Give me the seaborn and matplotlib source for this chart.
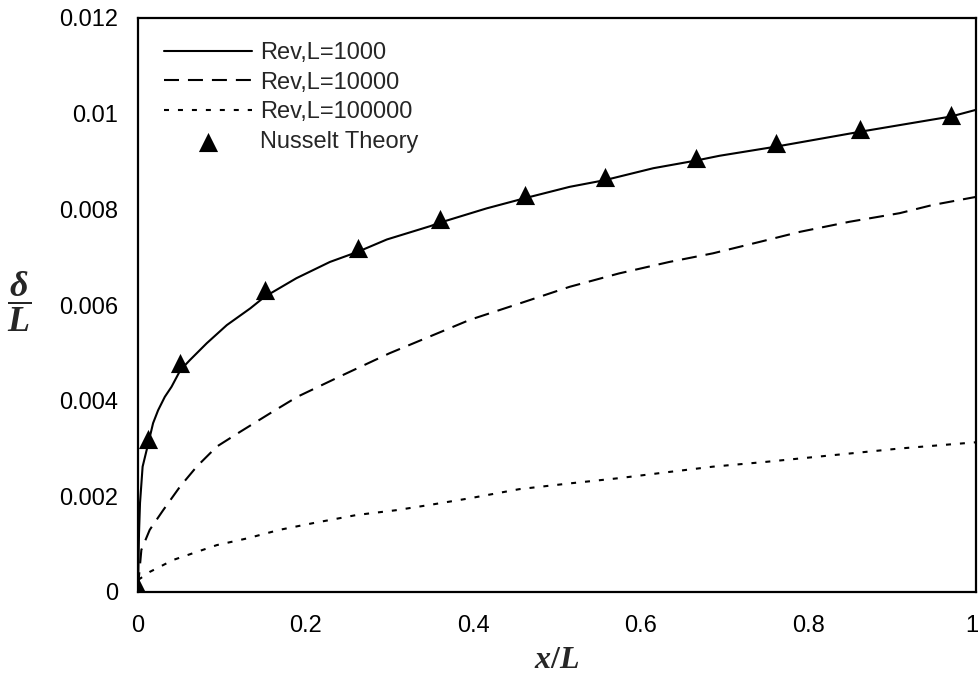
import matplotlib
matplotlib.use("Agg")
import matplotlib.pyplot as plt
import matplotlib.transforms as mtransforms
import seaborn as sns
import numpy as np

# ---- data ----
x_re1000 = [0.0, 0.0012, 0.0024, 0.0055, 0.0123, 0.018, 0.024, 0.032, 0.040, 0.0506, 0.062,
            0.082, 0.106, 0.134, 0.151, 0.189, 0.229, 0.262, 0.297, 0.349, 0.360, 0.416,
            0.461, 0.515, 0.557, 0.615, 0.666, 0.694, 0.761, 0.861, 0.946, 0.970, 1.0]
y_re1000 = [0.0, 0.00123, 0.00186, 0.00262, 0.00311, 0.00353, 0.0038, 0.00408, 0.00429, 0.00464, 0.00485,
            0.0052, 0.00558, 0.00593, 0.00617, 0.00656, 0.0069, 0.00711, 0.00737, 0.00765, 0.00772, 0.00802,
            0.00823, 0.00847, 0.00861, 0.00886, 0.00902, 0.00912, 0.00931, 0.00962, 0.00987, 0.00994, 0.01008]

x_re10000 = [0.0, 0.004, 0.014, 0.030, 0.050, 0.070, 0.094, 0.122, 0.158, 0.190, 0.245,
             0.300, 0.348, 0.396, 0.455, 0.515, 0.574, 0.634, 0.686, 0.742, 0.790, 0.849,
             0.909, 0.948, 1.0]
y_re10000 = [0.0001, 0.00088, 0.0013, 0.00171, 0.0022, 0.00262, 0.00304, 0.00335, 0.00374, 0.00408, 0.00454,
             0.00499, 0.00534, 0.00569, 0.00603, 0.00638, 0.00666, 0.0069, 0.00708, 0.00732, 0.00753, 0.00774,
             0.00792, 0.00809, 0.00826]

x_re100000 = [0.0, 0.014, 0.042, 0.094, 0.130, 0.169, 0.209, 0.261, 0.308, 0.348, 0.396,
              0.455, 0.515, 0.574, 0.634, 0.686, 0.749, 0.829, 0.909, 1.0]
y_re100000 = [0.00025, 0.00042, 0.00067, 0.00098, 0.00112, 0.0013, 0.00144, 0.00161, 0.00171, 0.00182, 0.00196,
              0.00215, 0.00227, 0.00238, 0.00251, 0.00262, 0.00272, 0.00286, 0.003, 0.00313]

x_nusselt = [0.0, 0.0123, 0.0506, 0.1515, 0.262, 0.360, 0.4616, 0.557, 0.666, 0.761, 0.861, 0.970]
y_nusselt = [0.0001, 0.00319, 0.00478, 0.00631, 0.0072, 0.0078, 0.00829, 0.00868, 0.00907, 0.00938, 0.00967, 0.00997]

labels = ["Rev,L=1000", "Rev,L=10000", "Rev,L=100000", "Nusselt Theory"]
x_ticks = [0, 0.2, 0.4, 0.6, 0.8, 1.0]
x_ticklabels = ["0", "0.2", "0.4", "0.6", "0.8", "1"]
y_ticks = [0, 0.002, 0.004, 0.006, 0.008, 0.010, 0.012]
y_ticklabels = ["0", "0.002", "0.004", "0.006", "0.008", "0.01", "0.012"]

# ---- style ----
sns.set_style("white")
plt.rcParams["font.family"] = ["Liberation Sans", "DejaVu Sans"]
plt.rcParams["mathtext.fontset"] = "custom"
plt.rcParams["mathtext.it"] = "Liberation Serif:italic:bold"
plt.rcParams["mathtext.rm"] = "Liberation Serif:bold"

W, H = 979, 679
fig = plt.figure(figsize=(W / 100, H / 100), dpi=100)
ax = fig.add_axes([138 / W, 1 - 592 / H, 838 / W, 574 / H])

lw = 1.5
sns.lineplot(x=x_re1000, y=y_re1000, ax=ax, color="black", linewidth=lw,
             linestyle="-", label=labels[0], sort=False, estimator=None)
sns.lineplot(x=x_re10000, y=y_re10000, ax=ax, color="black", linewidth=lw,
             linestyle=(0, (7.2, 4.3)), label=labels[1], sort=False, estimator=None)
sns.lineplot(x=x_re100000, y=y_re100000, ax=ax, color="black", linewidth=lw,
             linestyle=(0, (2.4, 4.3)), label=labels[2], sort=False, estimator=None)
sns.scatterplot(x=x_nusselt, y=y_nusselt, ax=ax, color="black", marker="^",
                s=190, edgecolor="black", linewidth=0, label=labels[3], zorder=5)

ax.set_xlim(0, 1)
ax.set_ylim(0, 0.012)
ax.set_xticks(x_ticks)
ax.set_xticklabels(x_ticklabels)
ax.set_yticks(y_ticks)
ax.set_yticklabels(y_ticklabels)
ax.tick_params(axis="both", direction="out", length=4.5, width=1, labelsize=17,
               colors="black")
ax.tick_params(axis="x", pad=12)
ax.tick_params(axis="y", pad=10)
for sp in ax.spines.values():
    sp.set_visible(True)
    sp.set_linewidth(1.6)
    sp.set_color("black")
ax.grid(False)

# keep the last x tick label inside the figure
last = ax.get_xticklabels()[-1]
last.set_transform(last.get_transform() + mtransforms.ScaledTranslation(-4 / 100, 0, fig.dpi_scale_trans))

ax.set_xlabel(r"$x/L$", fontsize=23, labelpad=6)
ax.set_ylabel(r"$\dfrac{\delta}{L}$", fontsize=26, rotation=0, ha="center", va="center")
ax.yaxis.set_label_coords(-0.142, 0.505)

leg = ax.legend(loc="upper left", bbox_to_anchor=(0.02, 0.975), frameon=False,
                fontsize=17, handlelength=3.7, handletextpad=0.35, labelspacing=0.33,
                borderaxespad=0.0)

fig.savefig("out.png", dpi=100)
